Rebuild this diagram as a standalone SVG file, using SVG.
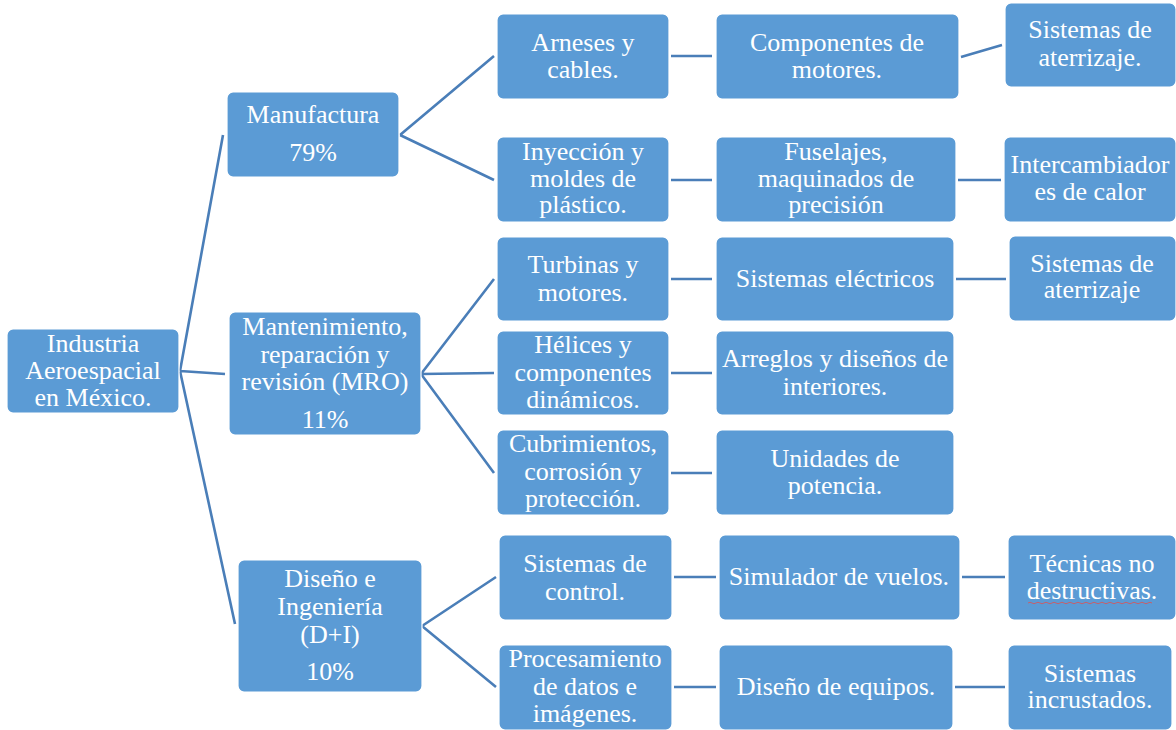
<svg xmlns="http://www.w3.org/2000/svg" width="1176" height="730" viewBox="0 0 1176 730">
<style>
.b{fill:#5B9BD5;stroke:#FFFFFF;stroke-width:1.2}
.t{font-size:26px;fill:#FFFFFF;text-anchor:middle}
.c{stroke:#4A7EB8;stroke-width:2.6;fill:none}
</style>
<rect width="1176" height="730" fill="#FFFFFF"/>
<g id="connectors">
<path class="c" d="M180,371 L223,135 M180,371 L225,374 M180,371 L235,624"/>
<path class="c" d="M400,135 L494,56 M400,135 L494,180"/>
<path class="c" d="M421,374 L494,279 M421,374 L494,373 M421,374 L494,473"/>
<path class="c" d="M422,626 L496,577 M422,626 L496,687"/>
<path class="c" d="M671,56 L712,56 M961,57 L1002,45"/>
<path class="c" d="M671,180 L712,180 M958,180 L1001,180"/>
<path class="c" d="M671,279 L712,279 M956,279 L1006,279"/>
<path class="c" d="M671,373 L712,373"/>
<path class="c" d="M671,473 L712,473"/>
<path class="c" d="M674,577 L716,577 M962,577 L1005,577"/>
<path class="c" d="M674,687 L716,687 M955,687 L1005,687"/>
</g>
<g id="nodes" font-family="Liberation Serif, Times New Roman, serif">
<g id="root"><rect class="b" x="7" y="329" width="172" height="84" rx="6"/>
<text class="t" x="93" y="352">Industria</text><text class="t" x="93" y="379">Aeroespacial</text><text class="t" x="93" y="406">en México.</text></g>
<g id="manufactura"><rect class="b" x="227" y="92" width="172" height="85" rx="6"/>
<text class="t" x="313" y="123">Manufactura</text><text class="t" x="313" y="161">79%</text></g>
<g id="mro"><rect class="b" x="229" y="312" width="192" height="123" rx="6"/>
<text class="t" x="325" y="335">Mantenimiento,</text><text class="t" x="325" y="363">reparación y</text><text class="t" x="325" y="390">revisión (MRO)</text><text class="t" x="325" y="428">11%</text></g>
<g id="di"><rect class="b" x="238" y="560" width="184" height="132" rx="6"/>
<text class="t" x="330" y="587">Diseño e</text><text class="t" x="330" y="615">Ingeniería</text><text class="t" x="330" y="643">(D+I)</text><text class="t" x="330" y="680">10%</text></g>
<g id="arneses"><rect class="b" x="497" y="14" width="172" height="85" rx="6"/>
<text class="t" x="583" y="51">Arneses y</text><text class="t" x="583" y="78">cables.</text></g>
<g id="inyeccion"><rect class="b" x="497" y="137" width="172" height="85" rx="6"/>
<text class="t" x="583" y="160">Inyección y</text><text class="t" x="583" y="187">moldes de</text><text class="t" x="583" y="213">plástico.</text></g>
<g id="turbinas"><rect class="b" x="497" y="237" width="172" height="84" rx="6"/>
<text class="t" x="583" y="273">Turbinas y</text><text class="t" x="583" y="301">motores.</text></g>
<g id="helices"><rect class="b" x="497" y="331" width="172" height="84" rx="6"/>
<text class="t" x="583" y="353">Hélices y</text><text class="t" x="583" y="381">componentes</text><text class="t" x="583" y="408">dinámicos.</text></g>
<g id="cubrimientos"><rect class="b" x="497" y="430" width="172" height="85" rx="6"/>
<text class="t" x="583" y="452">Cubrimientos,</text><text class="t" x="583" y="480">corrosión y</text><text class="t" x="583" y="507">protección.</text></g>
<g id="control"><rect class="b" x="499" y="535" width="173" height="85" rx="6"/>
<text class="t" x="585" y="572">Sistemas de</text><text class="t" x="585" y="600">control.</text></g>
<g id="procesamiento"><rect class="b" x="499" y="645" width="173" height="85" rx="6"/>
<text class="t" x="585" y="667">Procesamiento</text><text class="t" x="585" y="695">de datos e</text><text class="t" x="585" y="722">imágenes.</text></g>
<g id="componentes"><rect class="b" x="716" y="14" width="243" height="85" rx="6"/>
<text class="t" x="837" y="51">Componentes de</text><text class="t" x="837" y="78">motores.</text></g>
<g id="fuselajes"><rect class="b" x="716" y="137" width="240" height="85" rx="6"/>
<text class="t" x="836" y="160">Fuselajes,</text><text class="t" x="836" y="187">maquinados de</text><text class="t" x="836" y="213">precisión</text></g>
<g id="electricos"><rect class="b" x="716" y="237" width="238" height="84" rx="6"/>
<text class="t" x="835" y="287">Sistemas eléctricos</text></g>
<g id="arreglos"><rect class="b" x="716" y="331" width="238" height="84" rx="6"/>
<text class="t" x="835" y="367">Arreglos y diseños de</text><text class="t" x="835" y="395">interiores.</text></g>
<g id="unidades"><rect class="b" x="716" y="430" width="238" height="85" rx="6"/>
<text class="t" x="835" y="467">Unidades de</text><text class="t" x="835" y="494">potencia.</text></g>
<g id="simulador"><rect class="b" x="719" y="535" width="241" height="85" rx="6"/>
<text class="t" x="839" y="585">Simulador de vuelos.</text></g>
<g id="equipos"><rect class="b" x="719" y="645" width="234" height="85" rx="6"/>
<text class="t" x="836" y="695">Diseño de equipos.</text></g>
<g id="aterrizaje1"><rect class="b" x="1005" y="3" width="171" height="84" rx="6"/>
<text class="t" x="1090" y="38">Sistemas de</text><text class="t" x="1090" y="66">aterrizaje.</text></g>
<g id="intercambiador"><rect class="b" x="1004" y="137" width="172" height="85" rx="6"/>
<text class="t" x="1090" y="173">Intercambiador</text><text class="t" x="1090" y="200">es de calor</text></g>
<g id="aterrizaje2"><rect class="b" x="1009" y="236" width="167" height="85" rx="6"/>
<text class="t" x="1092" y="272">Sistemas de</text><text class="t" x="1092" y="298">aterrizaje</text></g>
<g id="tecnicas"><rect class="b" x="1008" y="535" width="168" height="85" rx="6"/>
<text class="t" x="1092" y="572">Técnicas no</text><text class="t" x="1092" y="599">destructivas.</text>
<path d="M1028,603 q2,-1.5 4,0 t4,0 t4,0 t4,0 t4,0 t4,0 t4,0 t4,0 t4,0 t4,0 t4,0 t4,0 t4,0 t4,0 t4,0 t4,0 t4,0 t4,0 t4,0 t4,0 t4,0 t4,0 t4,0 t4,0 t4,0 t4,0 t4,0 t4,0 t4,0 t4,0 t4,0" fill="none" stroke="#E05050" stroke-width="0.8"/></g>
<g id="incrustados"><rect class="b" x="1008" y="645" width="164" height="85" rx="6"/>
<text class="t" x="1090" y="682">Sistemas</text><text class="t" x="1090" y="708">incrustados.</text></g>
</g>
</svg>
